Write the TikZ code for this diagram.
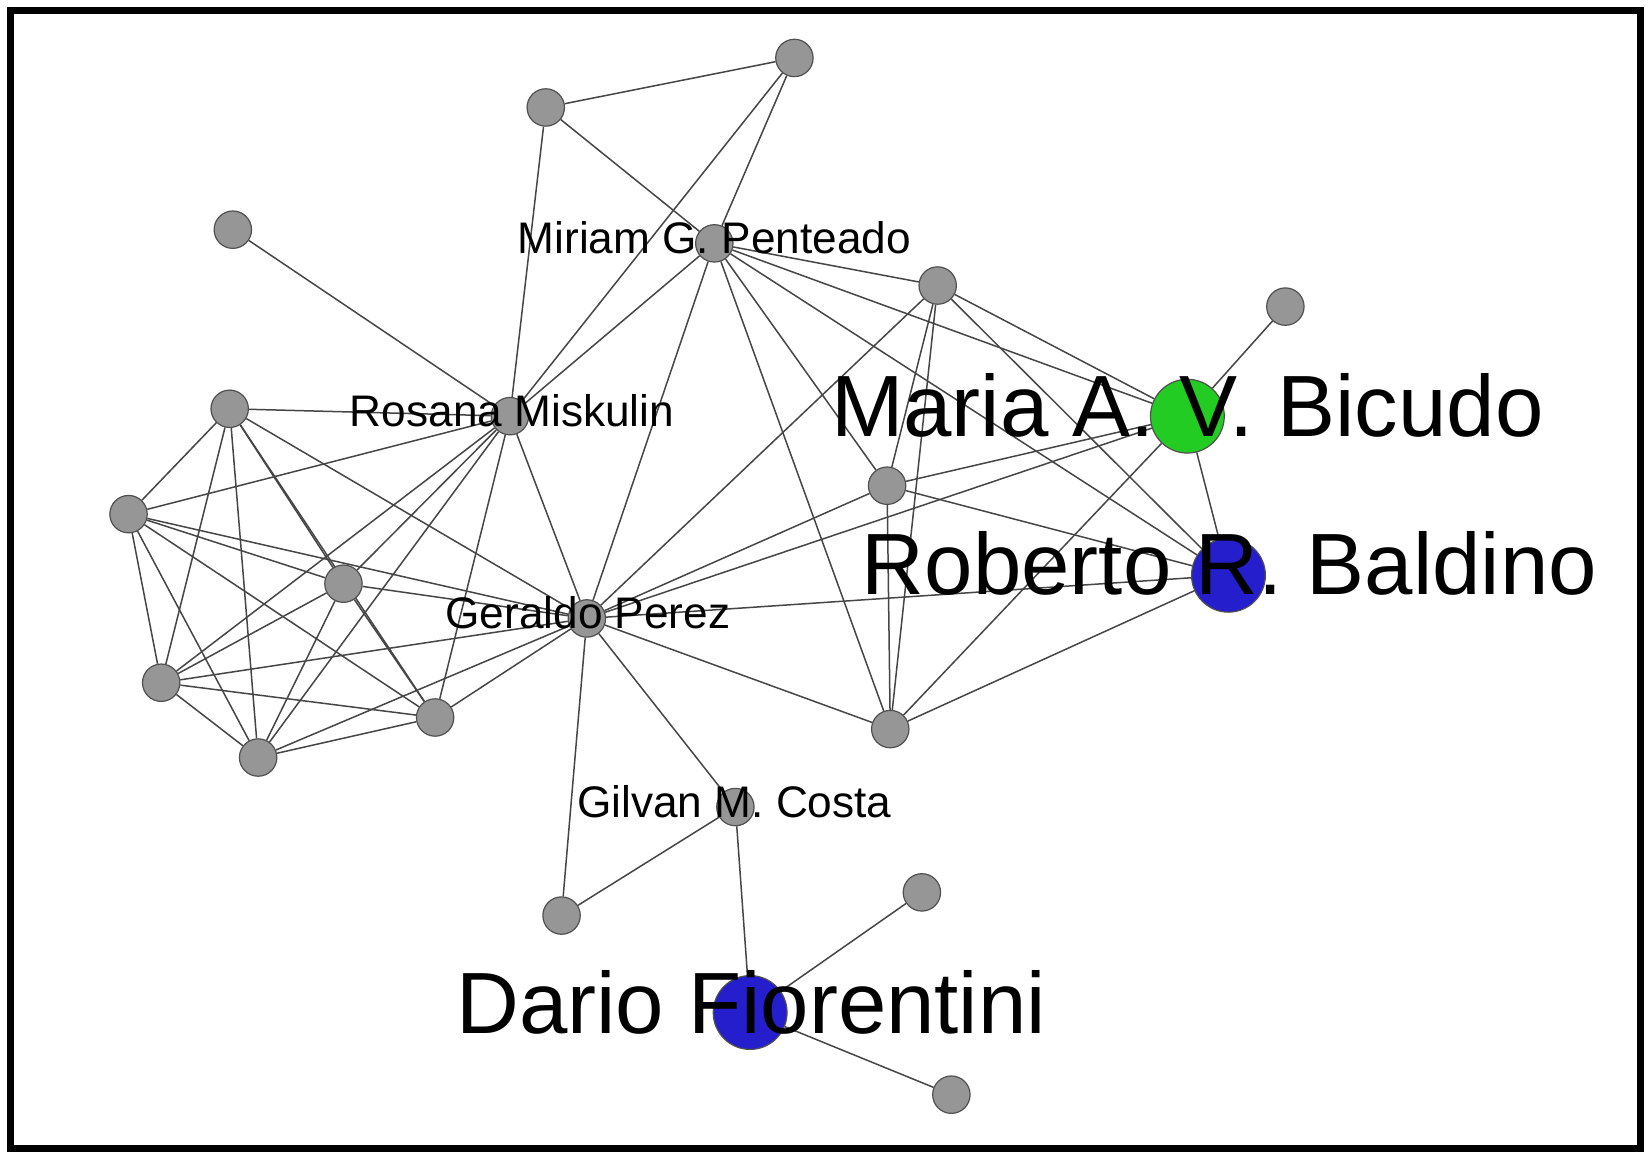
\documentclass[tikz,border=0pt]{standalone}
\usepackage{fontspec}
\setmainfont{Liberation Sans}
\definecolor{nodegray}{RGB}{150,150,150}
\definecolor{nodeline}{RGB}{80,80,80}
\definecolor{edgecol}{RGB}{70,70,70}
\definecolor{greennode}{RGB}{34,204,34}
\definecolor{bluenode}{RGB}{36,30,204}
\pgfdeclarelayer{paper}
\pgfdeclarelayer{edges}
\pgfsetlayers{paper,edges,main}
\begin{document}
\begin{tikzpicture}[x=0.52679pt,y=-0.52679pt,
  nd/.style={circle,draw=nodeline,line width=0.6pt,fill=nodegray,inner sep=0pt,minimum size=18.7pt},
  bignd/.style={circle,draw=nodeline,line width=0.6pt,inner sep=0pt,minimum size=36.9pt},
  edge/.style={draw=edgecol,line width=0.75pt},
  smalllbl/.style={anchor=base,inner sep=0pt,text=black,font=\fontsize{22.1pt}{26pt}\selectfont},
  biglbl/.style={anchor=base,inner sep=0pt,text=black,font=\fontsize{43.5pt}{50pt}\selectfont}]
\useasboundingbox (0,0) rectangle (1568,1100);
\begin{pgfonlayer}{paper}
\fill[white] (0,0) rectangle (1568,1100);
\draw[line width=3.5pt,black] (9.5,9.5) rectangle (1557.5,1090.5);
\end{pgfonlayer}

% nodes
\node[nd] (T1) at (518,102) {};
\node[nd] (T2) at (754,55) {};
\node[nd] (L1) at (221,218) {};
\node[nd] (MGP) at (678,231) {};
\node[nd] (N1) at (890,271) {};
\node[nd] (R1) at (1220,291) {};
\node[bignd,fill=greennode] (MAVB) at (1127,395) {};
\node[nd] (RM) at (484,395) {};
\node[nd] (A) at (218,388) {};
\node[nd] (B) at (122,488) {};
\node[nd] (C) at (326,554) {};
\node[nd] (D) at (153,648) {};
\node[nd] (E) at (245,719) {};
\node[nd] (F) at (413,681) {};
\node[nd] (GP) at (557,587) {};
\node[nd] (N2) at (842,461) {};
\node[bignd,fill=bluenode] (RRB) at (1166,546) {};
\node[nd] (N3) at (845,692) {};
\node[nd] (GMC) at (698,766) {};
\node[nd] (N4) at (533,869) {};
\node[bignd,fill=bluenode] (DF) at (712,961) {};
\node[nd] (N5) at (875,847) {};
\node[nd] (N6) at (903,1039) {};

% edges (behind nodes)
\begin{pgfonlayer}{edges}
\foreach \a/\b in {T1/T2,T1/MGP,T1/RM,T2/MGP,T2/RM,L1/RM,
  MGP/RM,MGP/GP,MGP/N1,MGP/MAVB,MGP/RRB,MGP/N2,MGP/N3,
  N1/MAVB,N1/RRB,N1/N2,N1/N3,N1/GP,R1/MAVB,
  MAVB/RRB,MAVB/N2,MAVB/GP,MAVB/N3,
  RRB/N2,RRB/GP,RRB/N3,N2/GP,N2/N3,N3/GP,
  RM/A,RM/B,RM/C,RM/D,RM/E,RM/F,RM/GP,
  A/B,A/C,A/D,A/E,A/F,A/GP,
  B/C,B/D,B/E,B/F,B/GP,
  C/D,C/E,C/F,C/GP,
  D/E,D/F,D/GP,E/F,E/GP,F/GP,
  GP/GMC,GP/N4,GMC/N4,GMC/DF,DF/N5,DF/N6}
  \draw[edge] (\a) -- (\b);
\end{pgfonlayer}

% labels
\node[smalllbl] (lMGP) at (678,241) {Miriam G. Penteado};
\node[smalllbl] (lRM) at (486,405) {Rosana Miskulin};
\node[smalllbl] (lGP) at (558,597) {Geraldo Perez};
\node[smalllbl] (lGMC) at (697,776) {Gilvan M. Costa};
\node[biglbl] (lMAVB) at (1127,414) {Maria A. V. Bicudo};
\node[biglbl] (lRRB) at (1167,564) {Roberto R. Baldino};
\node[biglbl] (lDF) at (713,981) {Dario Fiorentini};
\end{tikzpicture}
\end{document}
